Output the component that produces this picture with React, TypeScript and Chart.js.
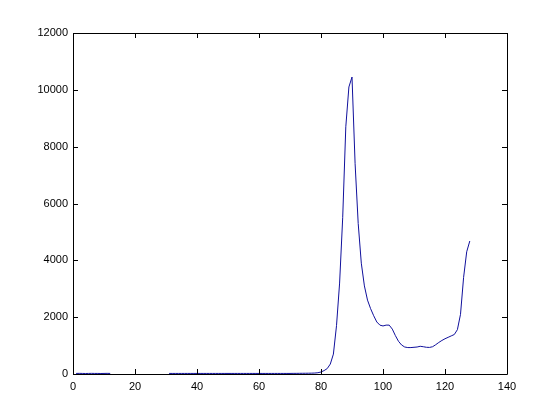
import React, { useEffect, useRef } from "react";
import { Chart, registerables } from "chart.js";

Chart.register(...registerables);

// sample index 1..128
const sampleIndex: number[] = Array.from({ length: 128 }, (_, i) => i + 1);

// measured values (null = missing samples, gap in the line)
const signalValues: (number | null)[] = [
  // 1-12
  20, 22, 20, 18, 20, 22, 20, 20, 18, 20, 22, 20,
  // 13-30 missing
  null, null, null, null, null, null, null, null, null,
  null, null, null, null, null, null, null, null, null,
  // 31-78
  20, 20, 20, 20, 20, 20, 20, 20, 20, 20,
  20, 20, 20, 20, 20, 20, 20, 20, 20, 20,
  20, 20, 20, 20, 20, 20, 20, 20, 20, 20,
  20, 20, 20, 20, 20, 20, 20, 20, 20, 20,
  22, 22, 24, 25, 26, 28, 30, 34,
  // 79-90
  45, 70, 120, 190, 350, 700, 1700, 3200, 5500, 8700, 10100, 10450,
  // 91-100
  7400, 5300, 3900, 3100, 2600, 2300, 2050, 1830, 1720, 1690,
  // 101-110
  1720, 1720, 1580, 1350, 1150, 1020, 950, 930, 930, 940,
  // 111-120
  950, 975, 960, 940, 935, 960, 1030, 1110, 1180, 1240,
  // 121-128
  1290, 1340, 1390, 1560, 2100, 3400, 4300, 4680,
];

const xTicks: number[] = [0, 20, 40, 60, 80, 100, 120, 140];
const yTicks: number[] = [0, 2000, 4000, 6000, 8000, 10000, 12000];

const boxPlugin = {
  id: "matlabBox",
  afterDraw(chart: any) {
    const { ctx, chartArea, scales } = chart;
    const { left, right, top, bottom } = chartArea;
    ctx.save();
    ctx.strokeStyle = "#000";
    ctx.lineWidth = 1;
    ctx.beginPath();
    ctx.rect(Math.round(left) + 0.5, Math.round(top) + 0.5, Math.round(right - left), Math.round(bottom - top));
    const tl = 5;
    for (const v of xTicks) {
      const px = Math.round(scales.x.getPixelForValue(v)) + 0.5;
      ctx.moveTo(px, bottom);
      ctx.lineTo(px, bottom - tl);
      ctx.moveTo(px, top);
      ctx.lineTo(px, top + tl);
    }
    for (const v of yTicks) {
      const py = Math.round(scales.y.getPixelForValue(v)) + 0.5;
      ctx.moveTo(left, py);
      ctx.lineTo(left + tl, py);
      ctx.moveTo(right, py);
      ctx.lineTo(right - tl, py);
    }
    ctx.stroke();
    ctx.restore();
  },
};

export default function App() {
  const ref = useRef<HTMLCanvasElement | null>(null);
  useEffect(() => {
    if (!ref.current) return;
    const data = sampleIndex.map((x, i) => ({ x, y: signalValues[i] }));
    const font = { family: "'Liberation Sans', Arial, sans-serif", size: 11 };
    const chart = new Chart(ref.current, {
      type: "line",
      data: {
        datasets: [
          {
            data: data as any,
            borderColor: "#10109c",
            borderWidth: 1,
            pointRadius: 0,
            tension: 0,
            spanGaps: false,
            fill: false,
          },
        ],
      },
      options: {
        animation: false,
        responsive: false,
        events: [],
        layout: { padding: { left: 0, top: 33, right: 53, bottom: 0 } },
        plugins: { legend: { display: false }, tooltip: { enabled: false } },
        scales: {
          x: {
            type: "linear",
            min: 0,
            max: 140,
            grid: { display: false, drawTicks: false },
            border: { display: false },
            ticks: {
              stepSize: 20,
              color: "#000",
              font,
              padding: 6,
              maxRotation: 0,
              callback: (v: any) => String(v),
            },
            afterFit: (s: any) => {
              s.height = 46;
            },
          },
          y: {
            type: "linear",
            min: 0,
            max: 12000,
            grid: { display: false, drawTicks: false },
            border: { display: false },
            ticks: {
              stepSize: 2000,
              color: "#000",
              font,
              padding: 5,
              callback: (v: any) => String(v),
            },
            afterFit: (s: any) => {
              s.width = 73;
            },
          },
        },
      },
      plugins: [boxPlugin],
    });
    return () => chart.destroy();
  }, []);
  return (
    <div style={{ position: "absolute", left: 0, top: 0, width: 560, height: 420, background: "#fff" }}>
      <canvas ref={ref} width={560} height={420} />
    </div>
  );
}
